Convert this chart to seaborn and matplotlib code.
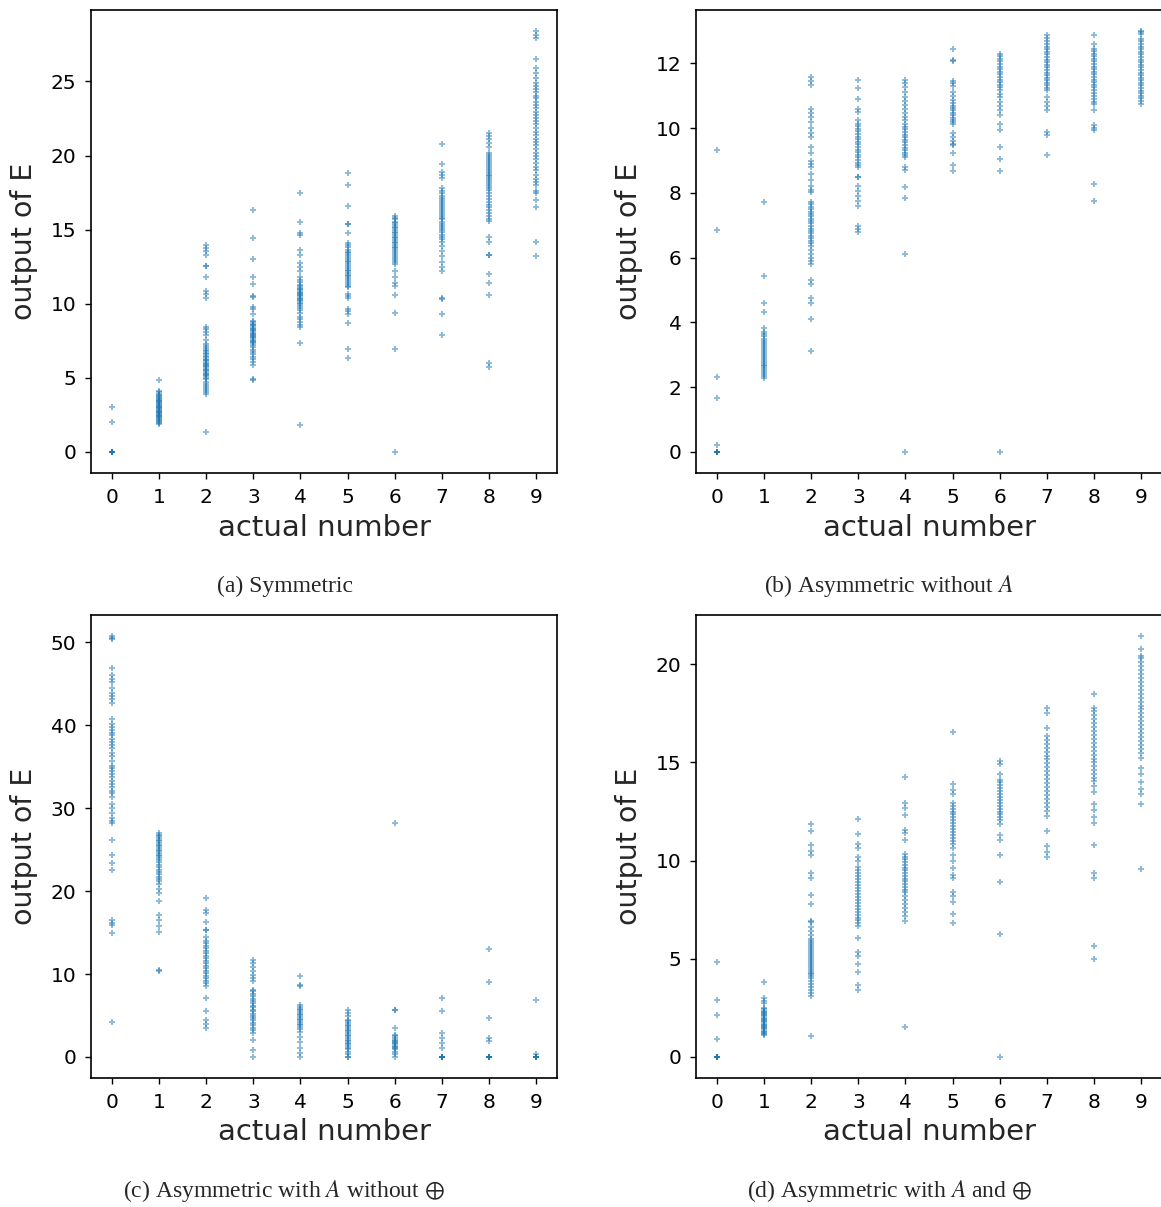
import numpy as np
import pandas as pd
import matplotlib
matplotlib.use("Agg")
import matplotlib.pyplot as plt
import seaborn as sns

sns.set_style("ticks", {"axes.edgecolor": "black", "xtick.color": "black", "ytick.color": "black"})
plt.rcParams['font.family'] = ['DejaVu Sans']
plt.rcParams['mathtext.fontset'] = 'stix'

digits = [0, 1, 2, 3, 4, 5, 6, 7, 8, 9]

# (a) Symmetric -- output of E for each actual digit
sym_outputs = [
    [0, 0, 0, 0, 0, 0, 0, 0, 0, 0, 2.0, 3.05],
    [4.84, 4.12, 4.05, 3.93, 3.86, 3.78, 3.71, 3.66, 3.58, 3.52, 3.47, 3.41, 3.35, 3.3, 3.24, 3.19, 3.12, 3.06,
     3.01, 2.95, 2.9, 2.84, 2.79, 2.73, 2.68, 2.62, 2.57, 2.51, 2.46, 2.4, 2.35, 2.29, 2.23, 2.17, 2.11, 2.05, 1.98, 1.92],
    [13.98, 13.77, 13.55, 13.3, 12.55, 12.52, 11.83, 10.88, 10.63, 10.42, 8.42, 8.3, 8.08, 7.86, 7.58, 7.3, 7.12,
     7.0, 6.9, 6.78, 6.68, 6.6, 6.5, 6.38, 6.3, 6.2, 6.12, 6.02, 5.95, 5.86, 5.78, 5.7, 5.6, 5.52, 5.44, 5.36,
     5.27, 5.2, 5.1, 5.02, 4.9, 4.72, 4.6, 4.45, 4.3, 4.15, 4.05, 3.88, 1.38],
    [16.3, 14.47, 13.04, 11.83, 11.34, 10.52, 10.48, 9.8, 9.62, 9.32, 8.87, 8.75, 8.66, 8.55, 8.47, 8.38, 8.3,
     8.22, 8.13, 8.05, 7.97, 7.9, 7.82, 7.75, 7.66, 7.58, 7.5, 7.42, 7.33, 7.2, 7.05, 6.9, 6.74, 6.6, 6.42, 6.25,
     6.08, 5.88, 4.93, 4.86],
    [17.5, 15.5, 14.8, 14.62, 13.66, 13.3, 12.75, 12.5, 12.23, 11.8, 11.62, 11.45, 11.3, 11.18, 11.08, 10.98,
     10.9, 10.82, 10.74, 10.66, 10.58, 10.5, 10.42, 10.34, 10.26, 10.17, 10.08, 9.98, 9.86, 9.74, 9.6, 9.35,
     9.12, 8.96, 8.76, 8.6, 8.42, 7.37, 1.8],
    [18.8, 18.0, 16.6, 15.4, 15.38, 14.8, 14.13, 13.95, 13.82, 13.65, 13.52, 13.4, 13.28, 13.15, 13.02, 12.9,
     12.8, 12.68, 12.55, 12.43, 12.3, 12.2, 12.08, 11.96, 11.85, 11.72, 11.6, 11.48, 11.35, 11.2, 11.1, 10.65,
     10.5, 10.38, 9.62, 9.5, 9.3, 8.7, 6.97, 6.36],
    [15.93, 15.82, 15.7, 15.55, 15.43, 15.3, 15.2, 15.08, 14.96, 14.86, 14.75, 14.64, 14.52, 14.42, 14.3, 14.2,
     14.1, 13.98, 13.86, 13.75, 13.62, 13.5, 13.38, 13.25, 13.12, 12.98, 12.84, 12.7, 12.2, 11.8, 11.42, 11.2,
     10.6, 9.4, 6.97, 0.0],
    [20.8, 19.4, 18.9, 18.7, 18.5, 17.8, 17.62, 17.45, 17.3, 17.15, 17.0, 16.88, 16.75, 16.6, 16.48, 16.35, 16.2,
     16.08, 15.95, 15.82, 15.7, 15.55, 15.4, 15.28, 15.12, 14.98, 14.82, 14.66, 14.5, 14.35, 14.2, 13.9, 13.55,
     13.2, 12.8, 12.5, 12.22, 10.4, 10.3, 9.3, 7.9],
    [21.5, 21.3, 21.1, 20.85, 20.6, 20.2, 20.02, 19.88, 19.75, 19.62, 19.5, 19.38, 19.25, 19.1, 18.98, 18.85,
     18.72, 18.6, 18.48, 18.35, 18.2, 18.08, 17.95, 17.8, 17.65, 17.5, 17.3, 17.1, 16.9, 16.68, 16.5, 16.3, 16.1,
     15.9, 15.72, 15.6, 14.5, 14.2, 13.3, 13.26, 12.0, 11.4, 10.6, 6.0, 5.7],
    [28.4, 28.15, 27.9, 26.5, 25.9, 25.6, 25.2, 24.9, 24.72, 24.5, 24.3, 24.05, 23.85, 23.62, 23.4, 23.18, 22.95,
     22.75, 22.55, 22.3, 22.1, 21.85, 21.62, 21.4, 21.15, 20.92, 20.7, 20.45, 20.2, 19.98, 19.75, 19.5, 19.25,
     19.0, 18.72, 18.45, 18.2, 18.0, 17.6, 17.5, 17.0, 16.5, 14.2, 13.2],
]

# (b) Asymmetric without A
asym_outputs = [
    [0, 0, 0, 0, 0, 0, 0, 0, 0, 0, 0.23, 1.68, 2.31, 6.87, 9.34],
    [7.71, 5.43, 4.59, 4.31, 3.82, 3.72, 3.64, 3.57, 3.5, 3.43, 3.37, 3.3, 3.24, 3.18, 3.12, 3.06, 3.0, 2.94,
     2.88, 2.82, 2.76, 2.7, 2.64, 2.58, 2.52, 2.46, 2.4, 2.34, 2.28],
    [11.58, 11.45, 11.33, 10.59, 10.47, 10.35, 10.2, 10.0, 9.85, 9.73, 9.42, 9.24, 9.0, 8.88, 8.8, 8.6, 8.4, 8.22,
     8.1, 8.03, 7.73, 7.65, 7.58, 7.5, 7.42, 7.35, 7.28, 7.2, 7.13, 7.06, 6.98, 6.9, 6.82, 6.75, 6.68, 6.6, 6.52,
     6.45, 6.35, 6.25, 6.12, 6.0, 5.9, 5.82, 5.3, 5.2, 4.77, 4.59, 4.1, 3.12],
    [11.5, 11.24, 10.9, 10.6, 10.5, 10.25, 10.14, 10.06, 9.98, 9.9, 9.82, 9.74, 9.66, 9.58, 9.5, 9.42, 9.34,
     9.26, 9.18, 9.1, 9.02, 8.94, 8.86, 8.8, 8.5, 8.48, 8.2, 8.05, 7.9, 7.75, 7.6, 6.98, 6.88, 6.8],
    [11.5, 11.4, 11.27, 11.12, 10.97, 10.85, 10.72, 10.6, 10.48, 10.36, 10.24, 10.12, 10.04, 9.96, 9.88, 9.8,
     9.72, 9.64, 9.56, 9.48, 9.4, 9.32, 9.24, 9.16, 9.11, 8.8, 8.72, 8.17, 7.85, 6.13, 0.0],
    [12.45, 12.1, 12.08, 11.46, 11.4, 11.3, 11.12, 11.0, 10.86, 10.78, 10.7, 10.62, 10.55, 10.48, 10.4, 10.32,
     10.25, 10.18, 10.14, 9.84, 9.72, 9.6, 9.5, 9.48, 9.24, 8.87, 8.68],
    [12.3, 12.22, 12.14, 12.06, 11.98, 11.9, 11.82, 11.74, 11.66, 11.58, 11.5, 11.42, 11.34, 11.26, 11.17, 11.07,
     10.95, 10.82, 10.7, 10.56, 10.4, 10.12, 9.94, 9.42, 9.05, 8.68, 0.0],
    [12.88, 12.8, 12.7, 12.6, 12.52, 12.44, 12.36, 12.28, 12.2, 12.12, 12.04, 11.96, 11.88, 11.8, 11.72, 11.64,
     11.56, 11.48, 11.4, 11.32, 11.24, 11.17, 10.97, 10.8, 10.7, 10.56, 9.89, 9.78, 9.16],
    [12.88, 12.6, 12.45, 12.38, 12.3, 12.22, 12.14, 12.06, 11.98, 11.9, 11.82, 11.74, 11.66, 11.58, 11.5, 11.42,
     11.34, 11.26, 11.18, 11.1, 11.0, 10.9, 10.82, 10.76, 10.56, 10.09, 10.02, 9.94, 8.27, 7.76],
    [13.0, 12.97, 12.92, 12.77, 12.68, 12.6, 12.52, 12.44, 12.36, 12.28, 12.2, 12.12, 12.04, 11.96, 11.88, 11.8,
     11.72, 11.64, 11.56, 11.48, 11.4, 11.32, 11.24, 11.16, 11.08, 11.0, 10.92, 10.84, 10.76],
]

# (c) Asymmetric with A without xor
asym_a_outputs = [
    [50.76, 50.5, 50.36, 46.9, 46.1, 45.6, 45.2, 44.5, 43.9, 43.5, 43.2, 42.7, 40.7, 40.1, 39.8, 39.4, 39.1, 38.8,
     38.4, 38.0, 37.6, 37.3, 36.7, 36.3, 35.7, 35.1, 34.8, 34.5, 34.1, 33.7, 33.3, 32.9, 32.5, 32.1, 31.8, 31.4,
     30.5, 30.0, 29.4, 28.8, 28.5, 28.2, 26.1, 24.3, 23.4, 22.5, 16.5, 16.1, 15.9, 14.9, 4.2],
    [27.0, 26.8, 26.6, 26.4, 26.2, 26.0, 25.8, 25.6, 25.4, 25.2, 25.0, 24.8, 24.6, 24.4, 24.2, 24.0, 23.8, 23.5,
     23.2, 22.9, 22.6, 22.3, 22.0, 21.7, 21.4, 21.2, 20.8, 20.3, 19.8, 18.8, 17.1, 16.5, 15.8, 15.1, 10.4, 10.5],
    [19.2, 17.75, 17.3, 16.3, 15.3, 15.28, 14.5, 14.0, 13.7, 13.4, 13.1, 12.8, 12.5, 12.2, 11.9, 11.6, 11.3, 11.0,
     10.7, 10.4, 10.1, 9.8, 9.5, 9.2, 8.9, 8.5, 7.1, 5.56, 4.47, 4.0, 3.47],
    [11.7, 11.3, 10.9, 10.4, 9.9, 9.5, 9.1, 8.1, 7.9, 7.6, 7.3, 7.0, 6.8, 6.5, 6.2, 6.0, 5.7, 5.5, 5.2, 4.9, 4.7,
     4.4, 4.1, 3.8, 3.5, 3.2, 2.86, 2.05, 0.85, 0.0],
    [9.7, 8.7, 8.5, 6.28, 6.05, 5.8, 5.6, 5.4, 5.2, 5.0, 4.8, 4.6, 4.4, 4.2, 4.0, 3.8, 3.6, 3.4, 3.06, 2.4, 1.85,
     1.05, 0.45, 0.0],
    [5.68, 5.3, 4.9, 4.5, 4.3, 4.1, 3.9, 3.7, 3.5, 3.3, 3.1, 2.9, 2.7, 2.5, 2.3, 2.1, 1.9, 1.7, 1.5, 1.3, 1.1,
     1.0, 0.64, 0.3, 0.0, 0.0],
    [28.2, 5.68, 5.6, 3.47, 2.66, 2.5, 2.3, 2.1, 1.95, 1.8, 1.65, 1.5, 1.35, 1.2, 1.05, 0.9, 0.64, 0.3, 0.0],
    [7.1, 5.56, 2.94, 2.3, 1.65, 1.05, 0, 0, 0, 0, 0, 0, 0, 0],
    [13.0, 9.0, 4.67, 2.3, 1.9, 0, 0, 0, 0, 0, 0, 0, 0],
    [6.85, 0.32, 0, 0, 0, 0, 0, 0, 0, 0],
]

# (d) Asymmetric with A and xor
asym_a_xor_outputs = [
    [4.81, 2.89, 2.14, 0.9, 0, 0, 0, 0, 0, 0, 0, 0, 0, 0],
    [3.83, 2.99, 2.86, 2.74, 2.48, 2.42, 2.36, 2.3, 2.24, 2.18, 2.12, 2.06, 2.0, 1.94, 1.88, 1.82, 1.76, 1.7,
     1.64, 1.58, 1.52, 1.46, 1.4, 1.34, 1.28, 1.22, 1.16, 1.12],
    [11.87, 11.5, 10.8, 10.47, 10.27, 9.37, 9.12, 8.27, 7.8, 6.9, 6.85, 6.6, 6.4, 6.2, 6.0, 5.9, 5.8, 5.7, 5.6,
     5.5, 5.4, 5.3, 5.2, 5.1, 5.0, 4.9, 4.8, 4.7, 4.6, 4.5, 4.4, 4.3, 4.2, 4.1, 4.0, 3.85, 3.7, 3.55, 3.4, 3.25,
     3.08, 1.05],
    [12.1, 11.33, 10.85, 10.65, 10.17, 9.97, 9.68, 9.5, 9.35, 9.2, 9.05, 8.9, 8.75, 8.6, 8.45, 8.3, 8.15, 8.0,
     7.85, 7.7, 7.55, 7.4, 7.25, 7.1, 6.95, 6.8, 6.65, 6.06, 5.37, 5.12, 4.74, 4.35, 3.67, 3.42],
    [14.25, 12.94, 12.69, 12.3, 11.58, 11.41, 11.06, 10.34, 10.2, 10.06, 9.92, 9.78, 9.64, 9.5, 9.36, 9.22, 9.08,
     8.94, 8.8, 8.66, 8.52, 8.38, 8.2, 8.0, 7.8, 7.6, 7.4, 7.2, 6.9, 1.52],
    [16.55, 13.88, 13.6, 13.4, 12.94, 12.8, 12.65, 12.5, 12.35, 12.2, 12.05, 11.9, 11.75, 11.6, 11.45, 11.3,
     11.15, 11.0, 10.85, 10.65, 10.3, 10.0, 9.63, 9.29, 9.12, 8.4, 8.2, 7.89, 7.28, 6.82],
    [15.07, 14.9, 14.39, 14.13, 14.0, 13.85, 13.7, 13.55, 13.4, 13.25, 13.1, 12.95, 12.8, 12.65, 12.5, 12.35,
     12.2, 12.05, 11.84, 11.29, 11.06, 10.27, 8.89, 6.28, 0.0],
    [17.79, 17.54, 16.77, 16.34, 16.15, 15.95, 15.75, 15.55, 15.35, 15.15, 14.95, 14.75, 14.55, 14.35, 14.15,
     13.95, 13.75, 13.55, 13.35, 13.15, 12.95, 12.75, 12.55, 12.26, 11.5, 10.73, 10.45, 10.17],
    [18.5, 17.79, 17.6, 17.4, 17.2, 17.0, 16.8, 16.6, 16.4, 16.2, 16.0, 15.8, 15.6, 15.4, 15.2, 15.0, 14.8, 14.6,
     14.4, 14.2, 14.05, 13.8, 13.5, 12.86, 12.6, 12.2, 11.92, 10.82, 9.37, 9.12, 5.66, 4.98],
    [21.44, 20.8, 20.42, 20.3, 20.1, 19.9, 19.7, 19.5, 19.3, 19.1, 18.9, 18.7, 18.5, 18.3, 18.1, 17.9, 17.7,
     17.5, 17.3, 17.1, 16.9, 16.7, 16.5, 16.3, 16.1, 15.9, 15.7, 15.5, 15.24, 14.73, 14.4, 14.0, 13.65, 13.37,
     12.86, 9.58],
]

captions = ["(a) Symmetric", "(b) Asymmetric without $A$",
            "(c) Asymmetric with $A$ without $\\oplus$", "(d) Asymmetric with $A$ and $\\oplus$"]


def to_frame(outputs):
    rows = []
    for d, vals in zip(digits, outputs):
        for v in vals:
            rows.append((d, v))
    return pd.DataFrame(rows, columns=['actual', 'output'])


fig = plt.figure(figsize=(11.61, 12.07), dpi=100)
# axes boxes in figure fractions: left, bottom, width, height
boxes = [[0.0784, 0.6081, 0.4014, 0.3836], [0.5995, 0.6081, 0.4014, 0.3836],
         [0.0784, 0.1069, 0.4014, 0.3836], [0.5995, 0.1069, 0.4014, 0.3836]]
cap_pos = [(0.2455, 0.5145), (0.7657, 0.5145), (0.2447, 0.0133), (0.7666, 0.0133)]
all_outputs = [sym_outputs, asym_outputs, asym_a_outputs, asym_a_xor_outputs]

for box, outputs, cap, cp in zip(boxes, all_outputs, captions, cap_pos):
    ax = fig.add_axes(box)
    df = to_frame(outputs)
    sns.scatterplot(x='actual', y='output', data=df, ax=ax, marker='+', s=20,
                    color='#1f77b4', alpha=0.5, linewidth=1.4)
    ax.set_xticks(digits)
    ax.margins(0.05)
    ax.set_xlabel('actual number', fontsize=21, labelpad=5)
    ax.set_ylabel('output of E', fontsize=20.5, labelpad=9)
    ax.tick_params(labelsize=14.5, width=1, length=4.5, pad=6)
    for sp in ax.spines.values():
        sp.set_linewidth(1.2)
    fig.text(cp[0], cp[1], cap, ha='center', va='center', fontsize=17,
             family='Liberation Serif')

plt.savefig('out.png', dpi=100)
